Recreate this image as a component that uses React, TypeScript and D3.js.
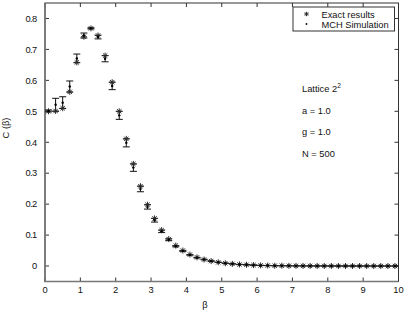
import { useEffect, useRef } from "react";
import { scaleLinear, select } from "d3";

// beta grid, exact heat capacity, MCH simulation mean and error bar half-width
const betas = [
  0.1, 0.3, 0.5, 0.7, 0.9, 1.1, 1.3, 1.5, 1.7, 1.9, 2.1, 2.3, 2.5, 2.7, 2.9, 3.1, 3.3, 3.5, 3.7, 3.9,
  4.1, 4.3, 4.5, 4.7, 4.9, 5.1, 5.3, 5.5, 5.7, 5.9, 6.1, 6.3, 6.5, 6.7, 6.9, 7.1, 7.3, 7.5, 7.7, 7.9,
  8.1, 8.3, 8.5, 8.7, 8.9, 9.1, 9.3, 9.5, 9.7, 9.9,
];
const exact = [
  0.5, 0.501, 0.51, 0.563, 0.658, 0.741, 0.768, 0.745, 0.68, 0.594, 0.5, 0.411, 0.33, 0.258, 0.198, 0.154,
  0.116, 0.087, 0.066, 0.05, 0.037, 0.028, 0.021, 0.016, 0.012, 0.009, 0.007, 0.005, 0.004, 0.003, 0.002,
  0.0015, 0.001, 0.001, 0.0007, 0.0005, 0.0004, 0.0003, 0.0002, 0.0002, 0.0001, 0.0001, 0.0001, 0.0001,
  0.0001, 0, 0, 0, 0, 0,
];
const simMean = [
  0.501, 0.521, 0.528, 0.58, 0.671, 0.745, 0.768, 0.74, 0.67, 0.582, 0.487, 0.398, 0.318, 0.249, 0.191,
  0.148, 0.112, 0.085, 0.064, 0.049, 0.036, 0.027, 0.021, 0.016, 0.012, 0.009, 0.007, 0.005, 0.004, 0.003,
  0.002, 0.0015, 0.001, 0.001, 0.0007, 0.0005, 0.0004, 0.0003, 0.0002, 0.0002, 0.0001, 0.0001, 0.0001,
  0.0001, 0.0001, 0, 0, 0, 0, 0,
];
const simErr = [
  0.003, 0.021, 0.019, 0.018, 0.014, 0.008, 0.002, 0.006, 0.01, 0.012, 0.013, 0.013, 0.012, 0.009, 0.007,
  0.006, 0.004, 0.003, 0.002, 0.0015, 0.001, 0.001, 0.001, 0.001, 0.0005, 0.0005, 0.0005, 0.0005, 0.0005,
  0.0005, 0.0005, 0.0005, 0.0005, 0.0005, 0.0005, 0.0005, 0.0005, 0.0005, 0.0005, 0.0005, 0.0005, 0.0005,
  0.0005, 0.0005, 0.0005, 0.0005, 0.0005, 0.0005, 0.0005, 0.0005,
];
const xTicks = [0, 1, 2, 3, 4, 5, 6, 7, 8, 9, 10];
const yTicks = [0, 0.1, 0.2, 0.3, 0.4, 0.5, 0.6, 0.7, 0.8];
const legendItems = ["Exact results", "MCH Simulation"];
const notes = ["a = 1.0", "g = 1.0", "N = 500"];

const FONT = "'Liberation Sans', Arial, sans-serif";

export default function App() {
  const ref = useRef<SVGSVGElement>(null);

  useEffect(() => {
    if (!ref.current) return;
    const svg = select(ref.current);
    svg.selectAll("*").remove();
    const W = 407,
      H = 313;
    const left = 45,
      right = 398.5,
      top = 3,
      bottom = 281.5;
    const x = scaleLinear().domain([0, 10]).range([left, right]);
    const y = scaleLinear().domain([-0.05, 0.85]).range([bottom, top]);

    svg.append("rect").attr("width", W).attr("height", H).attr("fill", "#fff");

    // MATLAB-style '*' marker
    const star = (g: any, cx: number, cy: number, r: number) => {
      const d = r * 0.72;
      g.append("path")
        .attr(
          "d",
          `M${cx - r},${cy}H${cx + r}M${cx},${cy - r}V${cy + r}M${cx - d},${cy - d}L${cx + d},${cy + d}M${cx - d},${cy + d}L${cx + d},${cy - d}`
        )
        .attr("stroke", "#2a2a2a")
        .attr("stroke-width", 1)
        .attr("fill", "none");
    };

    // ticks (inward, all four sides)
    const ax = svg.append("g").attr("stroke", "#333").attr("stroke-width", 1);
    xTicks.forEach((t) => {
      ax.append("line").attr("x1", x(t)).attr("x2", x(t)).attr("y1", bottom).attr("y2", bottom - 4);
      ax.append("line").attr("x1", x(t)).attr("x2", x(t)).attr("y1", top).attr("y2", top + 4);
    });
    yTicks.forEach((t) => {
      ax.append("line").attr("x1", left).attr("x2", left + 4).attr("y1", y(t)).attr("y2", y(t));
      ax.append("line").attr("x1", right).attr("x2", right - 4).attr("y1", y(t)).attr("y2", y(t));
    });
    svg
      .append("rect")
      .attr("x", left)
      .attr("y", top)
      .attr("width", right - left)
      .attr("height", bottom - top)
      .attr("fill", "none")
      .attr("stroke", "#333")
      .attr("stroke-width", 1);
    svg
      .append("path")
      .attr("d", `M${left},${top}V${bottom}H${right}`)
      .attr("fill", "none")
      .attr("stroke", "#777")
      .attr("stroke-width", 1.6);

    const lbl = svg.append("g").attr("font-family", FONT).attr("font-size", 9.3).attr("fill", "#111");
    xTicks.forEach((t) => {
      lbl.append("text").attr("x", x(t)).attr("y", 292.7).attr("text-anchor", "middle").text(String(t));
    });
    yTicks.forEach((t) => {
      lbl
        .append("text")
        .attr("x", 36.5)
        .attr("y", y(t) + 3.3)
        .attr("text-anchor", "end")
        .attr("letter-spacing", -0.6)
        .text(t === 0 ? "0" : t.toFixed(1));
    });
    lbl.append("text").attr("x", 205).attr("y", 307.5).attr("text-anchor", "middle").text("β");
    lbl
      .append("text")
      .attr("transform", "translate(9,128) rotate(-90)")
      .attr("text-anchor", "middle")
      .text("C (β)");

    // error bars
    const eb = svg.append("g").attr("stroke", "#111").attr("stroke-width", 1);
    betas.forEach((b, i) => {
      const cx = x(b);
      const lo = y(simMean[i] - simErr[i]);
      const hi = y(simMean[i] + simErr[i]);
      eb.append("line").attr("x1", cx).attr("x2", cx).attr("y1", lo).attr("y2", hi);
      eb.append("line").attr("x1", cx - 3.5).attr("x2", cx + 3.5).attr("y1", lo).attr("y2", lo);
      eb.append("line").attr("x1", cx - 3.5).attr("x2", cx + 3.5).attr("y1", hi).attr("y2", hi);
    });

    // exact results
    const ex = svg.append("g");
    betas.forEach((b, i) => star(ex, x(b), y(exact[i]), 3));

    // simulation points
    svg
      .append("g")
      .selectAll("circle")
      .data(betas)
      .join("circle")
      .attr("cx", (d) => x(d))
      .attr("cy", (_d, i) => y(simMean[i]))
      .attr("r", 1.2)
      .attr("fill", "#000");

    // legend
    const lg = svg.append("g");
    lg.append("rect")
      .attr("x", 293)
      .attr("y", 7)
      .attr("width", 101.5)
      .attr("height", 24)
      .attr("fill", "#fff")
      .attr("stroke", "#333")
      .attr("stroke-width", 1);
    star(lg, 306.5, 14, 2.2);
    lg.append("circle").attr("cx", 306.5).attr("cy", 24).attr("r", 0.9).attr("fill", "#000");
    legendItems.forEach((t, i) => {
      lg.append("text")
        .attr("x", 321.5)
        .attr("y", 17.5 + i * 10.5)
        .attr("font-family", FONT)
        .attr("font-size", 9.3)
        .attr("fill", "#111")
        .text(t);
    });

    // annotations
    const an = svg.append("g").attr("font-family", FONT).attr("font-size", 9.3).attr("fill", "#111");
    const lat = an.append("text").attr("x", 302).attr("y", 91.5).text("Lattice 2");
    lat.append("tspan").attr("dy", -4).attr("font-size", 6.5).text("2");
    notes.forEach((t, i) => {
      an.append("text")
        .attr("x", 302)
        .attr("y", 113.5 + i * 21.5)
        .text(t);
    });
  }, []);

  return (
    <svg
      ref={ref}
      width={407}
      height={313}
      viewBox="0 0 407 313"
      style={{ position: "fixed", left: 0, top: 0, display: "block" }}
    />
  );
}
